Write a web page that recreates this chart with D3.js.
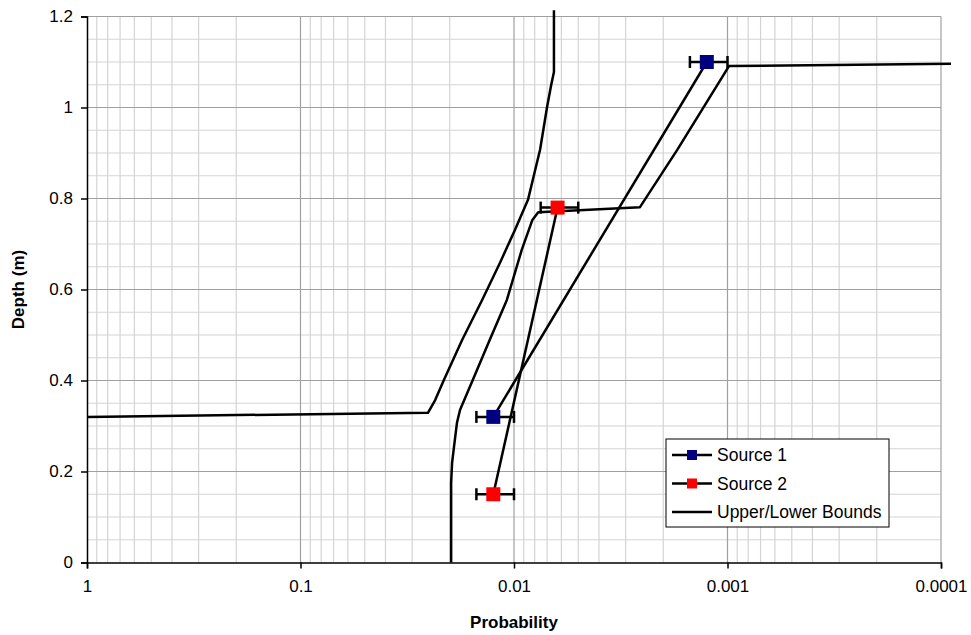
<!DOCTYPE html>
<html>
<head>
<meta charset="utf-8">
<script src="https://cdn.jsdelivr.net/npm/d3@7"></script>
<style>
  body { margin: 0; background: #fff; }
  text { font-family: "Liberation Sans", Arial, sans-serif; }
</style>
</head>
<body>
<div id="chart"></div>
<script>
// Depth vs probability (reversed log x axis)

const xTicks = [1, 0.1, 0.01, 0.001, 0.0001];
const xTickLabels = ['1', '0.1', '0.01', '0.001', '0.0001'];
const yTicks = [0, 0.2, 0.4, 0.6, 0.8, 1, 1.2];

// Source 1: probability, depth, error (+/-)
const source1Prob = [0.0125, 0.00125];
const source1Depth = [0.32, 1.1];
const source1Err = [0.0025, 0.00025];

// Source 2
const source2Prob = [0.0125, 0.00625];
const source2Depth = [0.15, 0.78];
const source2Err = [0.0025, 0.00125];

// Upper bound curve
const upperProb = [1, 0.0253, 0.0234, 0.0213, 0.0175, 0.0141, 0.0116, 0.0099, 0.0086, 0.00755, 0.0070, 0.0067, 0.0065, 0.0065];
const upperDepth = [0.32, 0.329, 0.357, 0.401, 0.489, 0.577, 0.660, 0.731, 0.797, 0.907, 1.001, 1.049, 1.078, 1.214];

// Lower bound curve
const lowerProb = [0.0197, 0.0197, 0.0195, 0.0191, 0.0185, 0.0179, 0.0171, 0.0156, 0.0130, 0.0108, 0.0092, 0.0082, 0.0077, 0.00257, 0.00172, 0.000984, 0.0000898];
const lowerDepth = [0, 0.175, 0.219, 0.254, 0.307, 0.335, 0.357, 0.401, 0.489, 0.577, 0.687, 0.753, 0.770, 0.781, 0.907, 1.091, 1.096];

const W = 971, H = 635;
const margin = { top: 16.5, right: 30, bottom: 72.5, left: 87 };
const width = 854;
const height = 546;

const svg = d3.select('#chart').append('svg')
    .attr('width', W)
    .attr('height', H);

const g = svg.append('g')
    .attr('transform', `translate(${margin.left},${margin.top})`);

const x = d3.scaleLog().domain([1, 0.0001]).range([0, width]);
const y = d3.scaleLinear().domain([0, 1.2]).range([height, 0]);

// Minor grid
const minorX = [];
for (let e = 0; e > -4; e--) {
    for (let m = 2; m <= 9; m++) minorX.push(m * Math.pow(10, e - 1));
}
const minorY = d3.range(0.05, 1.2, 0.05).filter(v => Math.abs(v / 0.2 - Math.round(v / 0.2)) > 1e-6);

g.append('g').selectAll('line.mx')
    .data(minorX).enter().append('line')
    .attr('x1', d => x(d)).attr('x2', d => x(d))
    .attr('y1', 0).attr('y2', height)
    .attr('stroke', '#d4d4d4').attr('stroke-width', 1.2);

g.append('g').selectAll('line.my')
    .data(minorY).enter().append('line')
    .attr('x1', 0).attr('x2', width)
    .attr('y1', d => y(d)).attr('y2', d => y(d))
    .attr('stroke', '#d4d4d4').attr('stroke-width', 1.2);

// Major grid
g.append('g').selectAll('line')
    .data(xTicks.slice(1)).enter().append('line')
    .attr('x1', d => x(d)).attr('x2', d => x(d))
    .attr('y1', 0).attr('y2', height)
    .attr('stroke', '#a0a0a0').attr('stroke-width', 1.2);

g.append('g').selectAll('line')
    .data(yTicks.slice(1)).enter().append('line')
    .attr('x1', 0).attr('x2', width)
    .attr('y1', d => y(d)).attr('y2', d => y(d))
    .attr('stroke', '#a0a0a0').attr('stroke-width', 1.2);

// Axes
const xAxis = g.append('g')
    .attr('transform', `translate(0,${height})`)
    .call(d3.axisBottom(x).tickValues(xTicks).tickSize(6).tickPadding(11)
        .tickFormat((d, i) => xTickLabels[i]));

const yAxis = g.append('g')
    .call(d3.axisLeft(y).tickValues(yTicks).tickSize(6).tickPadding(8)
        .tickFormat(d3.format('')));

[xAxis, yAxis].forEach(a => {
    a.select('.domain').attr('stroke', '#000').attr('stroke-width', 1.5);
    a.selectAll('.tick line').attr('stroke', '#000').attr('stroke-width', 1.5);
    a.selectAll('.tick text')
        .attr('font-size', '17px')
        .attr('font-family', '"Liberation Sans", Arial, sans-serif')
        .attr('fill', '#000');
});

// Axis titles
svg.append('text')
    .attr('x', margin.left + width / 2)
    .attr('y', 628)
    .attr('text-anchor', 'middle')
    .attr('font-size', '17px')
    .attr('font-weight', 'bold')
    .text('Probability');

svg.append('text')
    .attr('transform', `translate(24,${margin.top + height / 2}) rotate(-90)`)
    .attr('text-anchor', 'middle')
    .attr('font-size', '17px')
    .attr('font-weight', 'bold')
    .text('Depth (m)');

// Lines
const line = d3.line().x(d => x(d[0])).y(d => y(d[1]));
const zip = (a, b) => a.map((v, i) => [v, b[i]]);

[zip(upperProb, upperDepth), zip(lowerProb, lowerDepth),
 zip(source1Prob, source1Depth), zip(source2Prob, source2Depth)].forEach(pts => {
    g.append('path')
        .datum(pts)
        .attr('fill', 'none')
        .attr('stroke', '#000')
        .attr('stroke-width', 2.5)
        .attr('stroke-linejoin', 'round')
        .attr('d', line);
});

// Error bars and markers
function drawSource(probs, depths, errs, color) {
    const data = probs.map((p, i) => ({ p, d: depths[i], e: errs[i] }));
    const eb = g.append('g');
    data.forEach(o => {
        const yy = y(o.d);
        eb.append('line')
            .attr('x1', x(o.p + o.e)).attr('x2', x(o.p - o.e))
            .attr('y1', yy).attr('y2', yy)
            .attr('stroke', '#000').attr('stroke-width', 2.5);
        [o.p + o.e, o.p - o.e].forEach(v => {
            eb.append('line')
                .attr('x1', x(v)).attr('x2', x(v))
                .attr('y1', yy - 6).attr('y2', yy + 6)
                .attr('stroke', '#000').attr('stroke-width', 2.5);
        });
    });
    g.append('g').selectAll('rect')
        .data(data).enter().append('rect')
        .attr('x', o => x(o.p) - 7)
        .attr('y', o => y(o.d) - 7)
        .attr('width', 14).attr('height', 14)
        .attr('fill', color);
}
drawSource(source1Prob, source1Depth, source1Err, '#000080');
drawSource(source2Prob, source2Depth, source2Err, '#ff0000');

// Legend
const legend = svg.append('g').attr('transform', 'translate(666,439)');
legend.append('rect')
    .attr('width', 223).attr('height', 88)
    .attr('fill', '#fff').attr('stroke', '#000').attr('stroke-width', 1);

const legendItems = [
    { label: 'Source 1', color: '#000080' },
    { label: 'Source 2', color: '#ff0000' },
    { label: 'Upper/Lower Bounds', color: null }
];
legendItems.forEach((it, i) => {
    const ly = 16 + i * 28.5;
    legend.append('line')
        .attr('x1', 6).attr('x2', 46)
        .attr('y1', ly).attr('y2', ly)
        .attr('stroke', '#000').attr('stroke-width', 2.5);
    if (it.color) {
        legend.append('rect')
            .attr('x', 21).attr('y', ly - 5)
            .attr('width', 10).attr('height', 10)
            .attr('fill', it.color);
    }
    legend.append('text')
        .attr('x', 51).attr('y', ly + 6)
        .attr('font-size', '17.5px')
        .text(it.label);
});
</script>
</body>
</html>
